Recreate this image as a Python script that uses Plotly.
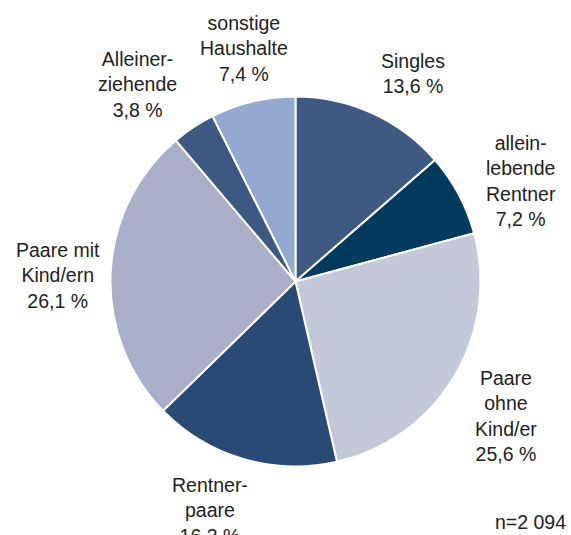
import math
import plotly.graph_objects as go

# Data
categories = ["Singles", "alleinlebende Rentner", "Paare ohne Kind/er", "Rentnerpaare",
              "Paare mit Kind/ern", "Alleinerziehende", "sonstige Haushalte"]
label_texts = ["Singles", "allein-<br>lebende<br>Rentner", "Paare<br>ohne<br>Kind/er",
               "Rentner-<br>paare", "Paare mit<br>Kind/ern", "Alleiner-<br>ziehende",
               "sonstige<br>Haushalte"]
values = [13.6, 7.2, 25.6, 16.3, 26.1, 3.8, 7.4]
note = "n=2 094"

# Styles
colors = ["#3F5A82", "#003A5D", "#C4C9DA", "#284A74", "#A9AEC9", "#3E5A82", "#94A9CF"]
W, H = 571, 535
dom_x = [0.1935, 0.8415]
dom_y = [0.128, 0.8196]
label_dist = 243  # px from pie centre
nudges = [(17, 13), (11, 14), (2, 9), (-17, -4), (5, 5), (-24, 6), (4, 3)]  # px, y down
font = dict(family="Liberation Sans, Arial, sans-serif", size=19.5, color="#222222")

fig = go.Figure(go.Pie(
    labels=categories, values=values, sort=False, direction="clockwise", rotation=0,
    marker=dict(colors=colors, line=dict(color="white", width=2)),
    textinfo="none", hoverinfo="label+percent", showlegend=False,
    domain=dict(x=dom_x, y=dom_y),
))

cx = (dom_x[0] + dom_x[1]) / 2
cy = (dom_y[0] + dom_y[1]) / 2
total = sum(values)
cum = 0.0
annotations = []
for v, txt, (nx, ny) in zip(values, label_texts, nudges):
    mid = (cum + v / 2) / total * 2 * math.pi
    cum += v
    ax = cx + label_dist * math.sin(mid) / W
    ay = cy + label_dist * math.cos(mid) / H
    pct = f"{v:.1f}".replace(".", ",") + " %"
    annotations.append(dict(
        x=ax, y=ay, xref="paper", yref="paper", text=f"{txt}<br>{pct}",
        showarrow=False, xanchor="center", yanchor="middle", align="center",
        xshift=nx, yshift=-ny, font=font,
    ))

annotations.append(dict(x=530 / W, y=1 - 522 / H, xref="paper", yref="paper", text=note,
                        showarrow=False, xanchor="center", yanchor="middle", font=font))

fig.update_layout(
    width=W, height=H, margin=dict(l=0, r=0, t=0, b=0),
    paper_bgcolor="white", plot_bgcolor="white",
    annotations=annotations,
)

fig.write_html("out.html", config={"displayModeBar": False},
               post_script="document.body.style.margin='0';document.body.style.padding='0';document.body.style.overflow='hidden';")
